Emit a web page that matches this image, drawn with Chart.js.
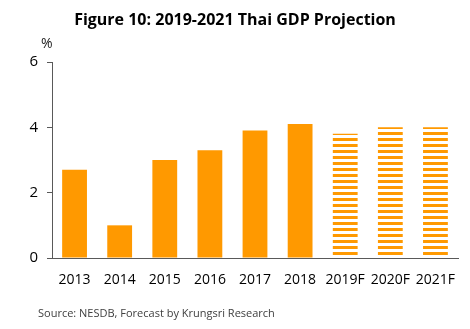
<!DOCTYPE html>
<html>
<head>
<meta charset="utf-8">
<script src="https://cdn.jsdelivr.net/npm/chart.js@4.4.1/dist/chart.umd.min.js"></script>
<style>
  body { margin: 0; background: #fff; font-family: "Open Sans", sans-serif; }
  #wrap { position: relative; width: 470px; height: 329px; }
  #titulo { position: absolute; left: 0; width: 470px; top: 8px; text-align: center; font-weight: bold; font-size: 16px; color: #000; }
  #pct { position: absolute; left: 41px; top: 33px; font-size: 14px; color: #222; }
  #fonte { position: absolute; left: 38px; top: 305px; font-size: 11px; color: #404040; }
  canvas { position: absolute; left: 0; top: 0; }
</style>
</head>
<body>
<div id="wrap">
  <canvas id="grafico_pib" width="470" height="329"></canvas>
  <div id="titulo">Figure 10: 2019-2021 Thai GDP Projection</div>
  <div id="pct">%</div>
  <div id="fonte">Source: NESDB, Forecast by Krungsri Research</div>
</div>
<script>
const anos = ['2013', '2014', '2015', '2016', '2017', '2018', '2019F', '2020F', '2021F'];
const pib = [2.7, 1.0, 3.0, 3.3, 3.9, 4.1, 3.8, 4.0, 4.0];
const previsao = [false, false, false, false, false, false, true, true, true];
const ticksY = [0, 2, 4, 6];

const laranja = '#ff9900';

// listras horizontais para os anos de previsao
function listras() {
  const c = document.createElement('canvas');
  c.width = 8;
  c.height = 6;
  const ctx = c.getContext('2d');
  ctx.fillStyle = laranja;
  ctx.fillRect(0, 0, 8, 3);
  return ctx.createPattern(c, 'repeat');
}

const padrao = listras();
const cores = previsao.map(p => p ? padrao : laranja);

new Chart(document.getElementById('grafico_pib'), {
  type: 'bar',
  data: {
    labels: anos,
    datasets: [{
      data: pib,
      backgroundColor: cores,
      borderWidth: 0,
      categoryPercentage: 1,
      barPercentage: 0.55
    }]
  },
  options: {
    responsive: false,
    animation: false,
    layout: { padding: { top: 62, right: 12, left: 0, bottom: 0 } },
    plugins: {
      legend: { display: false },
      tooltip: { enabled: false }
    },
    scales: {
      x: {
        grid: { display: false },
        border: { color: '#595959', width: 1 },
        ticks: { color: '#000', font: { family: 'Open Sans', size: 14 }, padding: 6, maxRotation: 0, autoSkip: false },
        afterFit: s => { s.height = 71; }
      },
      y: {
        min: 0,
        max: 6,
        afterBuildTicks: s => { s.ticks = ticksY.map(v => ({ value: v })); },
        grid: { drawOnChartArea: false, drawTicks: true, tickLength: 5, color: '#595959' },
        border: { color: '#595959', width: 1 },
        ticks: { color: '#000', font: { family: 'Open Sans', size: 15 }, padding: 9 },
        afterFit: s => { s.width = 52; }
      }
    }
  }
});
</script>
</body>
</html>
